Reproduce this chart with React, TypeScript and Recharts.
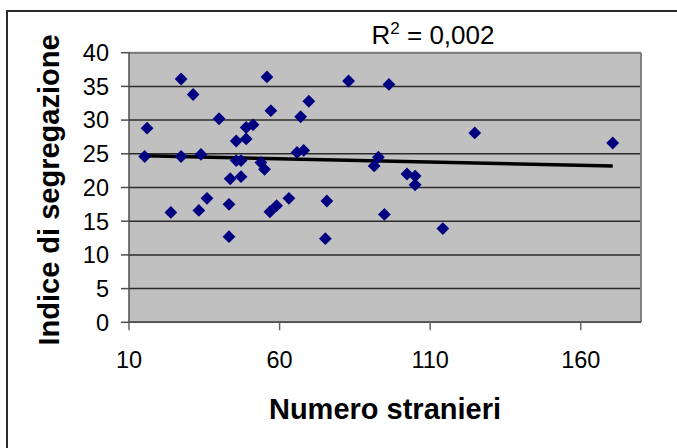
import React from 'react';
import { ScatterChart, Scatter, XAxis, YAxis, CartesianGrid, ReferenceLine, Label } from 'recharts';

const stranieri = [16.0, 15.2, 27.3, 27.3, 23.9, 31.3, 33.9, 33.2, 35.9, 39.9, 43.2, 43.2, 43.6, 45.6, 45.6, 47.2, 47.2, 48.9, 48.9, 51.2, 53.8, 55.0, 55.8, 57.1, 56.8, 59.0, 63.1, 65.8, 67.0, 68.0, 69.7, 75.7, 75.2, 82.9, 91.4, 92.8, 94.8, 96.3, 102.3, 105.0, 105.0, 114.2, 124.8, 170.6];
const indice = [28.8, 24.6, 36.1, 24.6, 16.3, 33.8, 24.9, 16.6, 18.4, 30.2, 17.5, 12.7, 21.3, 26.9, 24.0, 24.0, 21.6, 28.9, 27.2, 29.3, 23.7, 22.7, 36.4, 31.4, 16.4, 17.3, 18.4, 25.2, 30.5, 25.5, 32.8, 18.0, 12.4, 35.8, 23.2, 24.5, 16.0, 35.3, 22.0, 21.7, 20.4, 13.9, 28.1, 26.6];

const trendX = [15.2, 170.6];
const trendY = [24.7, 23.2];

const xTicks = [10, 60, 110, 160];
const yTicks = [0, 5, 10, 15, 20, 25, 30, 35, 40];

const points = stranieri.map((x, i) => ({ x, y: indice[i] }));
const trend = trendX.map((x, i) => ({ x, y: trendY[i] }));

const FONT = '"Liberation Sans", Arial, sans-serif';

const Diamond = (props: any) => {
  const { cx, cy } = props;
  if (cx == null || cy == null) return <g />;
  const r = 6.4;
  return (
    <polygon
      points={`${cx},${cy - r} ${cx + r},${cy} ${cx},${cy + r} ${cx - r},${cy}`}
      fill="#000080"
      stroke="none"
    />
  );
};

export default function App() {
  return (
    <div style={{ position: 'absolute', left: 0, top: 0, width: 677, height: 448, overflow: 'hidden', background: '#fff' }}>
      <ScatterChart
        width={677}
        height={448}
        margin={{ top: 52.7, right: 36, left: 0, bottom: 0 }}
      >
        <CartesianGrid
          horizontal={true}
          vertical={false}
          fill="#c0c0c0"
          fillOpacity={1}
          stroke="#2a2a2a"
          strokeWidth={1.5}
          horizontalValues={yTicks}
        />
        <XAxis
          type="number"
          dataKey="x"
          domain={[10, 180]}
          ticks={xTicks}
          allowDataOverflow
          height={125.7}
          tickSize={8}
          tickMargin={21}
          axisLine={{ stroke: '#4d4d4d', strokeWidth: 1.5 }}
          tickLine={{ stroke: '#666', strokeWidth: 1.5 }}
          tick={{ fill: '#000', fontSize: 23.5, fontFamily: FONT }}
        >
          <Label
            content={(p: any) => {
              const vb = p.viewBox || { x: 129, y: 322, width: 512 };
              return (
                <text
                  x={vb.x + vb.width / 2}
                  y={vb.y + 97}
                  textAnchor="middle"
                  fontFamily={FONT}
                  fontWeight="bold"
                  fontSize={29}
                  fill="#000"
                >
                  Numero stranieri
                </text>
              );
            }}
          />
        </XAxis>
        <YAxis
          type="number"
          dataKey="y"
          domain={[0, 40]}
          ticks={yTicks}
          allowDataOverflow
          width={129}
          tickSize={8}
          tickMargin={12}
          axisLine={{ stroke: '#4d4d4d', strokeWidth: 1.5 }}
          tickLine={{ stroke: '#4d4d4d', strokeWidth: 1.5 }}
          tick={{ fill: '#000', fontSize: 23.5, fontFamily: FONT }}
        >
          <Label
            content={(p: any) => {
              const vb = p.viewBox || { x: 0, y: 52.7, width: 129, height: 269.6 };
              const cx = vb.x + 59;
              const cy = vb.y + vb.height / 2 + 2.5;
              return (
                <text
                  x={cx}
                  y={cy}
                  transform={`rotate(-90, ${cx}, ${cy})`}
                  textAnchor="middle"
                  fontFamily={FONT}
                  fontWeight="bold"
                  fontSize={29}
                  fill="#000"
                >
                  Indice di segregazione
                </text>
              );
            }}
          />
        </YAxis>
        <ReferenceLine y={40} stroke="#808080" strokeWidth={2} ifOverflow="visible" />
        <ReferenceLine x={180} stroke="#808080" strokeWidth={2} ifOverflow="visible" />
        <Scatter data={points} shape={Diamond} isAnimationActive={false} />
        <ReferenceLine
          segment={[trend[0], trend[1]]}
          stroke="#000"
          strokeWidth={3.5}
          ifOverflow="visible"
        />
      </ScatterChart>
      <svg
        width={677}
        height={448}
        style={{ position: 'absolute', left: 0, top: 0, pointerEvents: 'none' }}
      >
        <rect x={7} y={11} width={700} height={480} fill="none" stroke="#2b2b2b" strokeWidth={2} />
        <text x={433} y={44} textAnchor="middle" fontFamily={FONT} fontSize={26} fill="#000">
          R<tspan fontSize={17} dy={-10.5}>2</tspan>
          <tspan dy={10.5}> = 0,002</tspan>
        </text>
      </svg>
    </div>
  );
}
